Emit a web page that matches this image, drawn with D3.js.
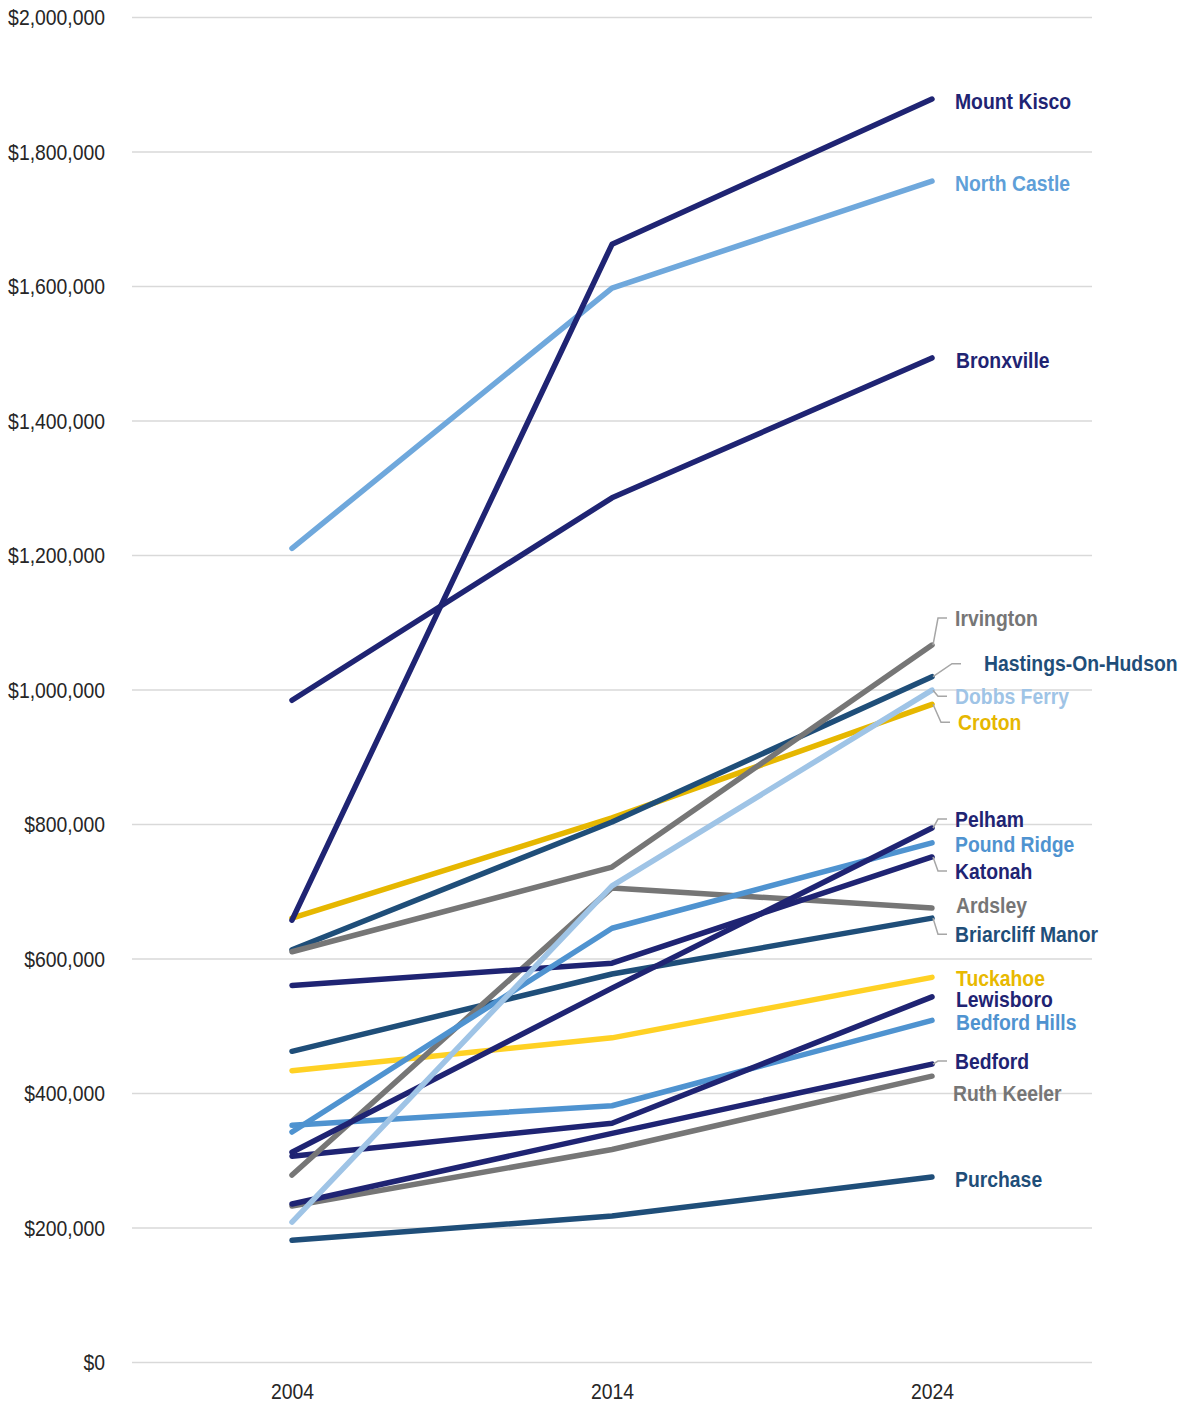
<!DOCTYPE html>
<html>
<head>
<meta charset="utf-8">
<script src="https://cdn.jsdelivr.net/npm/d3@7/dist/d3.min.js"></script>
<style>
  html, body { margin: 0; padding: 0; background: #ffffff; }
  svg { display: block; }
  text { font-family: "Liberation Sans", Arial, sans-serif; }
</style>
</head>
<body>
<svg id="chart" width="1185" height="1403"></svg>
<script>
// ---------- DATA ----------
const years = ["2004", "2014", "2024"];
const towns = ["Purchase", "Ruth Keeler", "Bedford", "Bedford Hills", "Lewisboro", "Tuckahoe",
  "Briarcliff Manor", "Ardsley", "Katonah", "Pound Ridge", "Pelham", "Croton", "Dobbs Ferry",
  "Hastings-On-Hudson", "Irvington", "Bronxville", "North Castle", "Mount Kisco"];
const value2004 = [181000, 232000, 235000, 352000, 306000, 433000,
  462000, 278000, 560000, 342000, 312000, 660000, 208000,
  613000, 610000, 984000, 1210000, 657000];
const value2014 = [217000, 316000, 340000, 381000, 355000, 482000,
  577000, 705000, 593000, 645000, 556000, 809000, 708000,
  803000, 736000, 1285000, 1597000, 1662000];
const value2024 = [275000, 425000, 443000, 508000, 543000, 572000,
  660000, 675000, 751000, 772000, 794000, 978000, 999000,
  1019000, 1066000, 1493000, 1756000, 1878000];
const yTicks = [0, 200000, 400000, 600000, 800000, 1000000, 1200000, 1400000, 1600000, 1800000, 2000000];

// ---------- STYLE ----------
const C = {
  navy: "#1f2473", dark: "#1f4e79", light: "#6fa8dc", mid: "#4f93d0",
  pale: "#9fc4e6", gray: "#767676", gold: "#e6b700", yellow: "#ffd124"
};
const lineColor = {
  "Purchase": C.dark, "Ruth Keeler": C.gray, "Bedford": C.navy, "Bedford Hills": C.mid,
  "Lewisboro": C.navy, "Tuckahoe": C.yellow, "Briarcliff Manor": C.dark, "Ardsley": C.gray,
  "Katonah": C.navy, "Pound Ridge": C.mid, "Pelham": C.navy, "Croton": C.gold,
  "Dobbs Ferry": C.pale, "Hastings-On-Hudson": C.dark, "Irvington": C.gray,
  "Bronxville": C.navy, "North Castle": C.light, "Mount Kisco": C.navy
};
const labelColor = Object.assign({}, lineColor, { "Tuckahoe": "#e8b900", "Croton": "#e6b700", "North Castle": "#5f9fd8" });
// label placement: vertical offset from line end, horizontal start, leader line?
const labelLayout = {
  "Mount Kisco": [2, 955, false], "North Castle": [2, 955, false], "Bronxville": [2, 956, false],
  "Irvington": [-27, 955, true], "Hastings-On-Hudson": [-13, 984, true], "Dobbs Ferry": [6, 955, true],
  "Croton": [18, 958, true], "Pelham": [-9, 955, true], "Pound Ridge": [1, 955, false],
  "Katonah": [14, 955, true], "Ardsley": [-3, 956, false], "Briarcliff Manor": [16, 955, true],
  "Tuckahoe": [1, 956, false], "Lewisboro": [2, 956, false], "Bedford Hills": [2, 956, false],
  "Bedford": [-3, 955, true], "Ruth Keeler": [17, 953, false], "Purchase": [2, 955, false]
};
const SX = 0.88; // horizontal condensing of all text

const plotLeft = 132, plotRight = 1092, plotTop = 17, plotBottom = 1362;

const svg = d3.select("#chart");

const x = d3.scalePoint().domain(years).range([plotLeft, plotRight]).padding(0.5);
const y = d3.scaleLinear().domain([0, 2000000]).range([plotBottom, plotTop]);

// gridlines
const grid = svg.append("g").attr("transform", `translate(${plotLeft},0)`)
  .call(d3.axisLeft(y).tickValues(yTicks).tickSize(-(plotRight - plotLeft)).tickFormat(""));
grid.select(".domain").remove();
grid.selectAll("line").attr("stroke", "#d9d9d9").attr("stroke-width", 1.6);

// y axis labels
const yAxis = svg.append("g").attr("transform", `translate(${plotLeft},0)`)
  .call(d3.axisLeft(y).tickValues(yTicks).tickSize(0).tickFormat(d3.format("$,.0f")));
yAxis.select(".domain").remove();
yAxis.selectAll("text")
  .attr("x", -27 / SX)
  .attr("dy", "0.35em")
  .attr("transform", `scale(${SX},1)`)
  .attr("font-size", 22)
  .attr("font-family", "'Liberation Sans', Arial, sans-serif")
  .attr("fill", "#262626");

// x axis labels
const xAxis = svg.append("g").attr("transform", `translate(0,${plotBottom})`)
  .call(d3.axisBottom(x).tickSize(0));
xAxis.select(".domain").remove();
xAxis.selectAll("text")
  .attr("y", 29)
  .attr("dy", "0.35em")
  .attr("transform", `scale(${SX},1)`)
  .attr("font-size", 22)
  .attr("font-family", "'Liberation Sans', Arial, sans-serif")
  .attr("fill", "#262626");

// series
const series = towns.map((t, i) => ({
  name: t,
  values: [value2004[i], value2014[i], value2024[i]].map((v, j) => ({ year: years[j], v }))
}));

const line = d3.line().x(d => x(d.year)).y(d => y(d.v));

svg.append("g").selectAll("path").data(series).join("path")
  .attr("d", d => line(d.values))
  .attr("fill", "none")
  .attr("stroke", d => lineColor[d.name])
  .attr("stroke-width", 5.5)
  .attr("stroke-linecap", "round")
  .attr("stroke-linejoin", "round");

// leader lines and labels
const lab = svg.append("g");
series.forEach(s => {
  const [dy, lx, leader] = labelLayout[s.name];
  const ex = x("2024"), ey = y(s.values[2].v);
  const ly = ey + dy;
  if (leader) {
    const bend = s.name === "Hastings-On-Hudson" ? lx - 32 : lx - 17;
    lab.append("polyline")
      .attr("points", `${ex + 1},${ey} ${bend},${ly} ${bend + 9},${ly}`)
      .attr("fill", "none").attr("stroke", "#a6a6a6").attr("stroke-width", 1.5);
  }
  lab.append("text")
    .attr("transform", `translate(${lx},${ly}) scale(${SX},1)`)
    .attr("dy", "0.35em")
    .attr("font-size", 22)
    .attr("font-weight", "bold")
    .attr("fill", labelColor[s.name])
    .text(s.name);
});
</script>
</body>
</html>
